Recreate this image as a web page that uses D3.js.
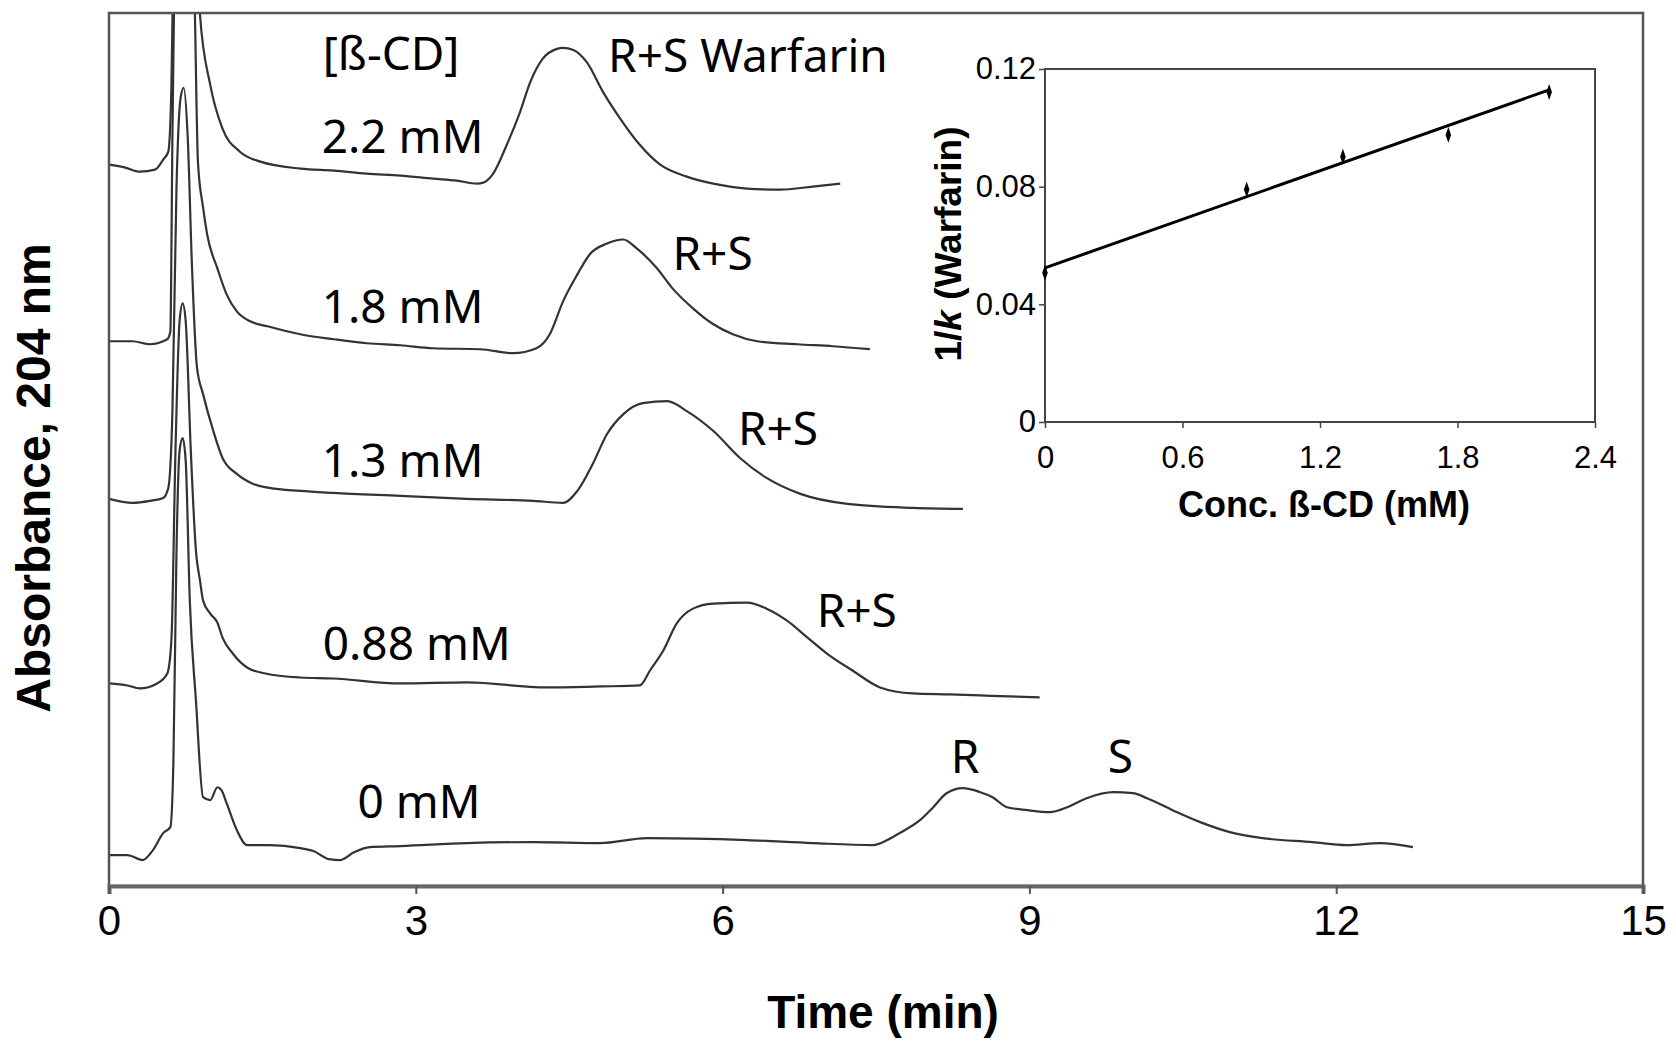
<!DOCTYPE html>
<html>
<head>
<meta charset="utf-8">
<script src="https://cdn.jsdelivr.net/npm/d3@7"></script>
<style>
  body { margin: 0; background: #fff; }
  svg { display: block; }
</style>
</head>
<body>
<div id="chart"></div>
<script>
// chromatograms: [time (min), absorbance (arb. units)]
var trace22 = [[0,144.6],[0.16,144.0],[0.30,143.2],[0.45,143.6],[0.53,145.6],[0.58,147.2],[0.61,160],[0.64,200],[0.70,260],[0.77,260],[0.83,210],[0.89,174.6],[0.99,160.6],[1.11,151.8],[1.28,147.2],[1.48,145.2],[1.87,143.8],[2.20,143.4],[2.52,142.8],[2.85,142.4],[3.17,141.8],[3.40,141.4],[3.60,140.8],[3.66,141.0],[3.75,142.6],[3.89,148.6],[4.02,155.2],[4.12,161.2],[4.24,165.8],[4.38,167.8],[4.44,168.0],[4.54,167.6],[4.67,165.2],[4.83,159.2],[5.00,153.8],[5.19,148.6],[5.39,144.6],[5.65,142.2],[5.91,140.8],[6.24,139.8],[6.56,139.6],[6.88,140.2],[7.15,140.8]];
var trace18 = [[0,109.2],[0.23,109.2],[0.40,108.6],[0.57,109.6],[0.60,111.2],[0.62,150],[0.65,200],[0.70,250],[0.76,250],[0.81,205],[0.84,175],[0.87,145],[0.92,136],[0.96,130.6],[1.06,123.8],[1.15,118.6],[1.25,115.2],[1.38,113.2],[1.55,112.2],[1.87,110.6],[2.20,109.6],[2.52,108.8],[2.85,108.4],[3.17,107.8],[3.63,107.6],[3.95,106.8],[4.18,107.8],[4.31,110.6],[4.44,117.2],[4.58,122.6],[4.70,126.6],[4.87,128.8],[5.03,129.6],[5.16,127.8],[5.36,123.8],[5.51,119.8],[5.71,115.8],[5.91,112.6],[6.10,110.6],[6.34,109.2],[6.73,108.6],[7.08,108.2],[7.44,107.6]];
var trace13 = [[0,77.6],[0.23,76.8],[0.40,77.2],[0.53,77.8],[0.58,79.8],[0.62,95],[0.66,140],[0.70,158],[0.73,160],[0.77,150],[0.81,125],[0.86,104],[0.92,98.6],[1.02,91.2],[1.11,85.8],[1.25,82.6],[1.41,80.6],[1.57,79.8],[1.87,79.2],[2.19,78.8],[2.85,78.2],[3.50,77.6],[4.15,77.2],[4.44,76.8],[4.58,79.2],[4.73,84.6],[4.87,90.6],[5.03,94.6],[5.22,96.8],[5.46,97.2],[5.65,95.2],[5.91,91.2],[6.17,85.8],[6.43,81.8],[6.76,78.6],[7.22,76.6],[7.86,75.8],[8.35,75.6]];
var trace088 = [[0,40.6],[0.18,40.2],[0.30,39.6],[0.47,40.6],[0.57,42.6],[0.61,49.2],[0.65,87.2],[0.69,113.2],[0.72,116.8],[0.75,113.2],[0.80,87.2],[0.85,67.2],[0.89,61.2],[0.92,57.2],[0.99,54.6],[1.06,52.8],[1.11,49.8],[1.21,46.6],[1.35,43.8],[1.53,42.6],[1.87,41.8],[2.19,41.6],[2.85,40.6],[3.50,40.8],[4.28,39.8],[4.80,40.0],[5.19,40.2],[5.29,43.2],[5.42,47.2],[5.55,52.6],[5.71,55.6],[5.91,56.6],[6.24,56.8],[6.43,55.6],[6.63,53.2],[6.83,49.8],[7.02,46.6],[7.27,43.2],[7.54,39.8],[7.86,38.6],[8.22,38.4],[8.52,38.2],[9.10,37.8]];
var trace0 = [[0,6.2],[0.18,6.2],[0.33,5.2],[0.43,7.2],[0.53,10.6],[0.60,11.8],[0.63,25.2],[0.66,67.2],[0.69,87.2],[0.72,89.8],[0.75,85.2],[0.79,57.2],[0.85,37.2],[0.92,17.8],[0.99,17.2],[1.06,19.8],[1.10,19.2],[1.15,16.6],[1.25,11.2],[1.35,8.2],[1.57,8.2],[1.87,7.6],[2.00,7.0],[2.15,5.4],[2.26,5.2],[2.40,6.8],[2.55,7.8],[2.85,8.0],[3.50,8.6],[4.15,8.8],[4.80,8.6],[5.26,9.6],[6.24,9.2],[6.88,8.6],[7.47,8.2],[7.61,9.2],[7.73,10.6],[7.93,13.2],[8.06,15.8],[8.19,18.6],[8.35,19.6],[8.52,18.8],[8.64,17.8],[8.78,15.8],[8.98,15.2],[9.20,14.8],[9.37,15.8],[9.56,17.6],[9.82,18.8],[10.01,18.6],[10.15,17.6],[10.40,15.2],[10.67,12.8],[10.96,10.8],[11.28,9.6],[11.77,8.8],[12.10,8.2],[12.43,8.6],[12.75,7.8]];

var timeTicks = [0, 3, 6, 9, 12, 15];

// annotations, in data coords [time, absorbance]
var concLabels = [
  {text: '[ß-CD]', t: 2.09, v: 163.6},
  {text: '2.2 mM', t: 2.08, v: 146.9},
  {text: '1.8 mM', t: 2.08, v: 112.8},
  {text: '1.3 mM', t: 2.08, v: 82.0},
  {text: '0.88 mM', t: 2.09, v: 45.3},
  {text: '0 mM', t: 2.43, v: 13.6}
];
var peakLabels = [
  {text: 'R+S Warfarin', t: 4.88, v: 163.2, anchor: 'start'},
  {text: 'R+S', t: 5.51, v: 123.5, anchor: 'start'},
  {text: 'R+S', t: 6.15, v: 88.4, anchor: 'start'},
  {text: 'R+S', t: 6.92, v: 51.9, anchor: 'start'},
  {text: 'R', t: 8.37, v: 22.6, anchor: 'middle'},
  {text: 'S', t: 9.89, v: 22.6, anchor: 'middle'}
];

// inset: 1/k vs beta-CD concentration
var conc = [0, 0.88, 1.3, 1.76, 2.2];
var invK = [0.0507, 0.0790, 0.0902, 0.0976, 0.1122];
var fitConc = [0, 2.2];
var fitInvK = [0.0524, 0.1129];
var concTicks = [0, 0.6, 1.2, 1.8, 2.4];
var invKTicks = [0, 0.04, 0.08, 0.12];

var width = 1676, height = 1041;

var svg = d3.select('#chart')
    .append('svg')
    .attr('width', width)
    .attr('height', height)
    .style('background', '#fff');

var x = d3.scaleLinear().domain([0, 15]).range([109, 1643]);
var y = d3.scaleLinear().domain([0, 175]).range([886, 13]);

svg.append('clipPath')
    .attr('id', 'plotClip')
  .append('rect')
    .attr('x', x(0))
    .attr('y', y(175))
    .attr('width', x(15) - x(0))
    .attr('height', y(0) - y(175));

var line = d3.line()
    .x(d => x(d[0]))
    .y(d => y(d[1]))
    .curve(d3.curveMonotoneX);

var traces = [trace22, trace18, trace13, trace088, trace0];

svg.append('g')
    .attr('clip-path', 'url(#plotClip)')
  .selectAll('path')
  .data(traces)
  .join('path')
    .attr('d', line)
    .attr('fill', 'none')
    .attr('stroke', '#333')
    .attr('stroke-width', 2.2)
    .attr('stroke-linejoin', 'round');

// frame
svg.append('rect')
    .attr('x', x(0))
    .attr('y', y(175))
    .attr('width', x(15) - x(0))
    .attr('height', y(0) - y(175))
    .attr('fill', 'none')
    .attr('stroke', '#555')
    .attr('stroke-width', 2.5);

var xAxis = svg.append('g')
    .attr('transform', `translate(0,${y(0)})`)
    .call(d3.axisBottom(x).tickValues(timeTicks).tickSize(8).tickPadding(11).tickFormat(d3.format('d')));

xAxis.select('.domain')
    .attr('stroke', '#666')
    .attr('stroke-width', 4);
xAxis.selectAll('.tick line').attr('stroke', '#555').attr('stroke-width', 2);
xAxis.selectAll('.tick text')
    .attr('fill', '#000')
    .style('font-family', '"Liberation Sans", Arial, sans-serif')
    .style('font-size', '42px');

svg.append('text')
    .attr('x', 883)
    .attr('y', 1028)
    .attr('text-anchor', 'middle')
    .style('font-family', '"Liberation Sans", Arial, sans-serif')
    .style('font-weight', 'bold')
    .style('font-size', '46px')
    .text('Time (min)');

svg.append('text')
    .attr('transform', 'translate(50,478)rotate(-90)')
    .attr('text-anchor', 'middle')
    .style('font-family', '"Liberation Sans", Arial, sans-serif')
    .style('font-weight', 'bold')
    .style('font-size', '48px')
    .text('Absorbance, 204 nm');

var labelFont = '"Noto Sans", "Open Sans", sans-serif';

svg.append('g')
  .selectAll('text')
  .data(concLabels)
  .join('text')
    .attr('x', d => x(d.t))
    .attr('y', d => y(d.v))
    .style('font-family', labelFont)
    .style('font-size', '46px')
    .text(d => d.text);

svg.append('g')
  .selectAll('text')
  .data(peakLabels)
  .join('text')
    .attr('x', d => x(d.t))
    .attr('y', d => y(d.v))
    .attr('text-anchor', d => d.anchor)
    .style('font-family', labelFont)
    .style('font-size', '46px')
    .text(d => d.text);

// inset
var x2 = d3.scaleLinear().domain([0, 2.4]).range([1045, 1595]);
var y2 = d3.scaleLinear().domain([0, 0.12]).range([422, 69]);

var inset = svg.append('g');

inset.append('rect')
    .attr('x', x2(0))
    .attr('y', y2(0.12))
    .attr('width', x2(2.4) - x2(0))
    .attr('height', y2(0) - y2(0.12))
    .attr('fill', '#fff')
    .attr('stroke', '#444')
    .attr('stroke-width', 2);

var tickFont = '"Liberation Sans", Arial, sans-serif';

var x2Axis = inset.append('g')
    .attr('transform', `translate(0,${y2(0)})`)
    .call(d3.axisBottom(x2).tickValues(concTicks).tickSize(6).tickPadding(18).tickFormat(d => d === 0 ? '0' : d3.format('.1f')(d)));
x2Axis.select('.domain').remove();
x2Axis.selectAll('.tick line').attr('stroke', '#444').attr('stroke-width', 1.5);
x2Axis.selectAll('.tick text')
    .attr('fill', '#000')
    .style('font-family', tickFont)
    .style('font-size', '31px');

var y2Axis = inset.append('g')
    .attr('transform', `translate(${x2(0)},0)`)
    .call(d3.axisLeft(y2).tickValues(invKTicks).tickSize(6).tickPadding(3).tickFormat(d => d === 0 ? '0' : d3.format('.2f')(d)));
y2Axis.select('.domain').remove();
y2Axis.selectAll('.tick line').attr('stroke', '#444').attr('stroke-width', 1.5);
y2Axis.selectAll('.tick text')
    .attr('fill', '#000')
    .style('font-family', tickFont)
    .style('font-size', '31px');

inset.append('line')
    .attr('x1', x2(fitConc[0]))
    .attr('y1', y2(fitInvK[0]))
    .attr('x2', x2(fitConc[1]))
    .attr('y2', y2(fitInvK[1]))
    .attr('stroke', '#000')
    .attr('stroke-width', 3);

inset.append('g')
  .selectAll('path')
  .data(conc)
  .join('path')
    .attr('transform', (d, i) => `translate(${x2(d)},${y2(invK[i])})scale(0.7,1.15)`)
    .attr('d', d3.symbol().type(d3.symbolDiamond).size(55))
    .attr('fill', '#000');

inset.append('text')
    .attr('x', 1324)
    .attr('y', 517)
    .attr('text-anchor', 'middle')
    .style('font-family', tickFont)
    .style('font-weight', 'bold')
    .style('font-size', '36px')
    .text('Conc. ß-CD (mM)');

var yLab = inset.append('text')
    .attr('transform', 'translate(961,244)rotate(-90)')
    .attr('text-anchor', 'middle')
    .style('font-family', tickFont)
    .style('font-weight', 'bold')
    .style('font-size', '37px');
yLab.append('tspan').text('1/');
yLab.append('tspan').style('font-style', 'italic').text('k');
yLab.append('tspan').text(' (Warfarin)');
</script>
</body>
</html>
